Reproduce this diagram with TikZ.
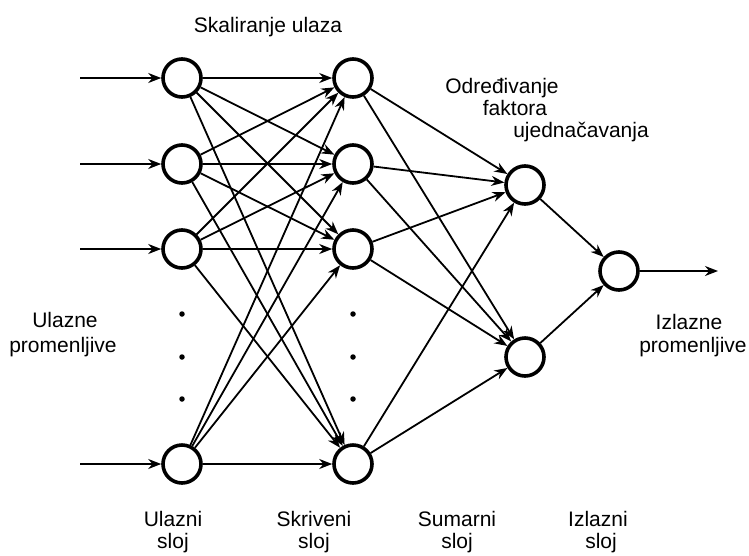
\documentclass[tikz,border=0pt]{standalone}
\usepackage{fontspec}
\setmainfont{Liberation Sans}
\usetikzlibrary{arrows.meta}
\begin{document}
\begin{tikzpicture}[x=1pt,y=-1pt,
  neuron/.style={circle,draw,line width=3.6pt,minimum size=38pt,inner sep=0pt},
  link/.style={-{Stealth[length=13pt,width=10pt]},line width=1.8pt},
  lbl/.style={font=\fontsize{21}{22}\selectfont,anchor=base,inner sep=0pt},
  dotmark/.style={circle,fill,minimum size=5.5pt,inner sep=0pt}]
\useasboundingbox (0,0) rectangle (749,555);

% input layer
\node[neuron] (in1) at (182,78) {};
\node[neuron] (in2) at (182,164) {};
\node[neuron] (in3) at (182,249) {};
\node[neuron] (in4) at (182,464) {};
% hidden layer
\node[neuron] (hid1) at (353,78) {};
\node[neuron] (hid2) at (353,164) {};
\node[neuron] (hid3) at (353,249) {};
\node[neuron] (hid4) at (353,464) {};
% summation layer
\node[neuron] (sum1) at (525,185) {};
\node[neuron] (sum2) at (525,357) {};
% output layer
\node[neuron] (out) at (619,271) {};

% ellipsis dots
\foreach \y [count=\k] in {314,357,399} {
  \node[dotmark] (din\k) at (182,\y) {};
  \node[dotmark] (dhid\k) at (353,\y) {};
}

% incoming variables
\foreach \i/\y in {1/78,2/164,3/249,4/464} {
  \coordinate (src\i) at (80,\y);
  \draw[link] (src\i) -- (in\i);
}

% input -> hidden
\foreach \i in {1,...,4}
  \foreach \j in {1,...,4}
    \draw[link] (in\i) -- (hid\j);

% hidden -> summation
\foreach \j in {1,...,4} {
  \draw[link] (hid\j) -- (sum1);
  \draw[link] (hid\j) -- (sum2);
}

% summation -> output
\draw[link] (sum1) -- (out);
\draw[link] (sum2) -- (out);
\coordinate (dst) at (718,271);
\draw[link] (out) -- (dst);

% labels
\node[lbl] (tscale) at (268,32) {Skaliranje ulaza};
\node[lbl] (tsm1) at (502,93) {Određivanje};
\node[lbl] (tsm2) at (515,115) {faktora};
\node[lbl] (tsm3) at (581,137) {ujednačavanja};
\node[lbl] (tin1) at (65,327) {Ulazne};
\node[lbl] (tin2) at (63,352) {promenljive};
\node[lbl] (tout1) at (689,329) {Izlazne};
\node[lbl] (tout2) at (693,352) {promenljive};
\node[lbl] (l1a) at (173,526) {Ulazni};
\node[lbl] (l1b) at (173,548) {sloj};
\node[lbl] (l2a) at (314,526) {Skriveni};
\node[lbl] (l2b) at (314,548) {sloj};
\node[lbl] (l3a) at (457,526) {Sumarni};
\node[lbl] (l3b) at (457,548) {sloj};
\node[lbl] (l4a) at (598,526) {Izlazni};
\node[lbl] (l4b) at (601,548) {sloj};
\end{tikzpicture}
\end{document}
